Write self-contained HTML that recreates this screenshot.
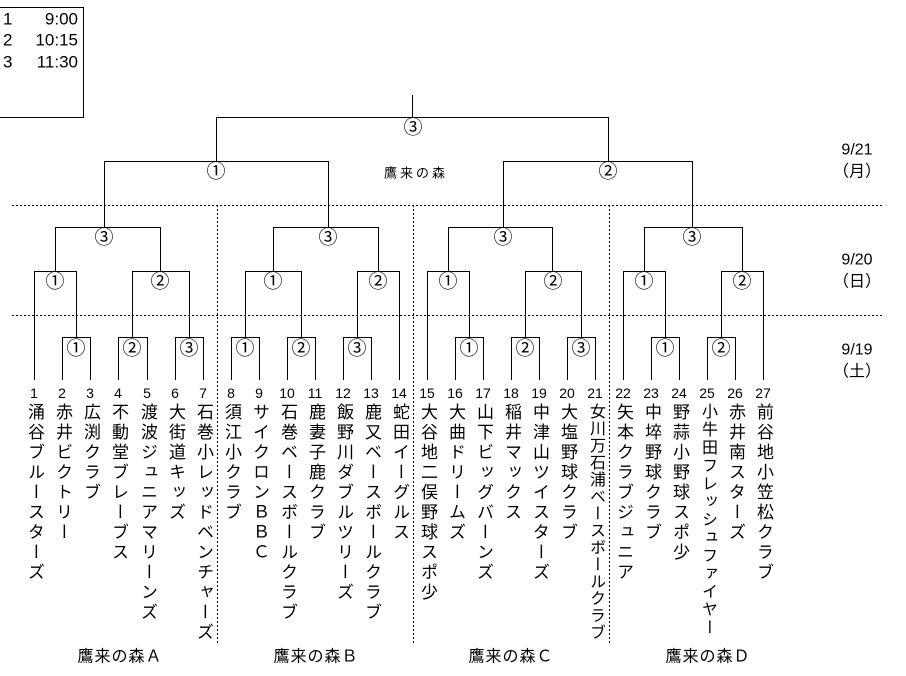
<!DOCTYPE html>
<html><head><meta charset="utf-8"><style>
body{margin:0;background:#fff;width:906px;height:676px;overflow:hidden;position:relative;font-family:"Liberation Sans","Noto Sans CJK JP",sans-serif;}
svg{position:absolute;left:0;top:0}
.n{position:absolute;top:403px;writing-mode:vertical-rl;text-orientation:upright;font-size:17px;letter-spacing:3px;line-height:17px;width:17px;color:#000;white-space:nowrap}
</style></head><body>
<svg width="906" height="676" viewBox="0 0 906 676" font-family="Liberation Sans, Noto Sans CJK JP, sans-serif">
<g stroke="#000" stroke-width="1" fill="none" shape-rendering="crispEdges">
<path d="M0 7.5H83.5V117.5H0"/>
<g stroke-dasharray="2,2">
<line x1="12" y1="205.5" x2="882" y2="205.5"/>
<line x1="12" y1="315.5" x2="882" y2="315.5"/>
<line x1="217.5" y1="205" x2="217.5" y2="645"/>
<line x1="413.5" y1="205" x2="413.5" y2="645"/>
<line x1="609.5" y1="205" x2="609.5" y2="645"/>
</g>
<path d="
M62.5 380V337.5H90.5V380 M118.5 380V337.5H147.5V380 M175.5 380V337.5H203.5V380
M34.5 380V271.5H76.5V337 M132.5 337V271.5H189.5V337
M55.5 271V227.5H160.5V271 M104.5 227V161.5H328.5V227
M216.5 161V117.5H608.5V161 M412.5 117V95
M231.5 380V337.5H259.5V380 M287.5 380V337.5H315.5V380 M343.5 380V337.5H371.5V380
M245.5 337V271.5H301.5V337 M357.5 337V271.5H399.5V380
M273.5 271V227.5H378.5V271
M455.5 380V337.5H483.5V380 M511.5 380V337.5H539.5V380 M567.5 380V337.5H595.5V380
M427.5 380V271.5H469.5V337 M525.5 337V271.5H581.5V337
M448.5 271V227.5H552.5V271 M503.5 227V161.5H692.5V227
M651.5 380V337.5H679.5V380 M707.5 380V337.5H735.5V380
M623.5 380V271.5H665.5V337 M721.5 337V271.5H763.5V380
M644.5 271V227.5H742.5V271
"/>
</g>
<g font-size="19" text-anchor="middle" dominant-baseline="central" fill="#000">
<text x="76" y="349">①</text><text x="132" y="349">②</text><text x="189" y="349">③</text>
<text x="55" y="282">①</text><text x="160" y="282">②</text><text x="104" y="238">③</text>
<text x="245" y="349">①</text><text x="301" y="349">②</text><text x="357" y="349">③</text>
<text x="273" y="282">①</text><text x="378" y="282">②</text><text x="328" y="238">③</text>
<text x="469" y="349">①</text><text x="525" y="349">②</text><text x="581" y="349">③</text>
<text x="448" y="282">①</text><text x="553" y="282">②</text><text x="503" y="238">③</text>
<text x="665" y="349">①</text><text x="721" y="349">②</text>
<text x="644" y="282">①</text><text x="742" y="282">②</text><text x="692" y="238">③</text>
<text x="216" y="172">①</text><text x="608" y="172">②</text><text x="413" y="128">③</text>
</g>
<g font-size="13" text-anchor="middle" dominant-baseline="central">
<text x="416" y="173" letter-spacing="3">鷹来の森</text>
</g>
<g font-size="16" text-anchor="middle" dominant-baseline="central">
<text x="857" y="150">9/21</text><text x="857" y="172">（月）</text>
<text x="857" y="260">9/20</text><text x="857" y="282">（日）</text>
<text x="857" y="350">9/19</text><text x="857" y="372">（土）</text>
</g>
<g font-size="17" dominant-baseline="central">
<text x="3" y="19">1</text><text x="78" y="19" text-anchor="end">9:00</text>
<text x="3" y="40">2</text><text x="78" y="40" text-anchor="end">10:15</text>
<text x="3" y="62">3</text><text x="78" y="62" text-anchor="end">11:30</text>
</g>
<g font-size="14" text-anchor="middle" dominant-baseline="central">
<text x="34" y="393">1</text><text x="62" y="393">2</text><text x="90" y="393">3</text><text x="118" y="393">4</text><text x="147" y="393">5</text><text x="175" y="393">6</text><text x="203" y="393">7</text>
<text x="231" y="393">8</text><text x="259" y="393">9</text><text x="287" y="393">10</text><text x="315" y="393">11</text><text x="343" y="393">12</text><text x="371" y="393">13</text><text x="399" y="393">14</text>
<text x="427" y="393">15</text><text x="455" y="393">16</text><text x="483" y="393">17</text><text x="511" y="393">18</text><text x="539" y="393">19</text><text x="567" y="393">20</text><text x="595" y="393">21</text>
<text x="623" y="393">22</text><text x="651" y="393">23</text><text x="679" y="393">24</text><text x="707" y="393">25</text><text x="735" y="393">26</text><text x="763" y="393">27</text>
</g>
<g font-size="16" text-anchor="middle" dominant-baseline="central" letter-spacing="1">
<text x="120" y="657">鷹来の森Ａ</text><text x="316" y="657">鷹来の森Ｂ</text><text x="511" y="657">鷹来の森Ｃ</text><text x="708" y="657">鷹来の森Ｄ</text>
</g>
</svg>
<div class="n" style="left:26px">涌谷ブルースターズ</div>
<div class="n" style="left:54px">赤井ビクトリー</div>
<div class="n" style="left:82px">広渕クラブ</div>
<div class="n" style="left:110px">不動堂ブレーブス</div>
<div class="n" style="left:139px">渡波ジュニアマリーンズ</div>
<div class="n" style="left:167px">大街道キッズ</div>
<div class="n" style="left:195px">石巻小レッドベンチャーズ</div>
<div class="n" style="left:223px">須江小クラブ</div>
<div class="n" style="left:251px">サイクロンＢＢＣ</div>
<div class="n" style="left:279px">石巻ベースボールクラブ</div>
<div class="n" style="left:307px">鹿妻子鹿クラブ</div>
<div class="n" style="left:335px">飯野川ダブルツリーズ</div>
<div class="n" style="left:363px">鹿又ベースボールクラブ</div>
<div class="n" style="left:391px">蛇田イーグルス</div>
<div class="n" style="left:419px">大谷地二俣野球スポ少</div>
<div class="n" style="left:447px">大曲ドリームズ</div>
<div class="n" style="left:475px">山下ビッグバーンズ</div>
<div class="n" style="left:503px">稲井マックス</div>
<div class="n" style="left:531px">中津山ツイスターズ</div>
<div class="n" style="left:559px">大塩野球クラブ</div>
<div class="n" style="left:587px;font-size:16px;width:16px;line-height:16px;letter-spacing:1px">女川万石浦ベースボールクラブ</div>
<div class="n" style="left:615px">矢本クラブジュニア</div>
<div class="n" style="left:643px">中埣野球クラブ</div>
<div class="n" style="left:671px">野蒜小野球スポ少</div>
<div class="n" style="left:699px;font-size:16px;width:16px;line-height:16px;letter-spacing:2px">小牛田フレッシュファイヤー</div>
<div class="n" style="left:727px">赤井南スターズ</div>
<div class="n" style="left:755px">前谷地小笠松クラブ</div>
</body></html>
